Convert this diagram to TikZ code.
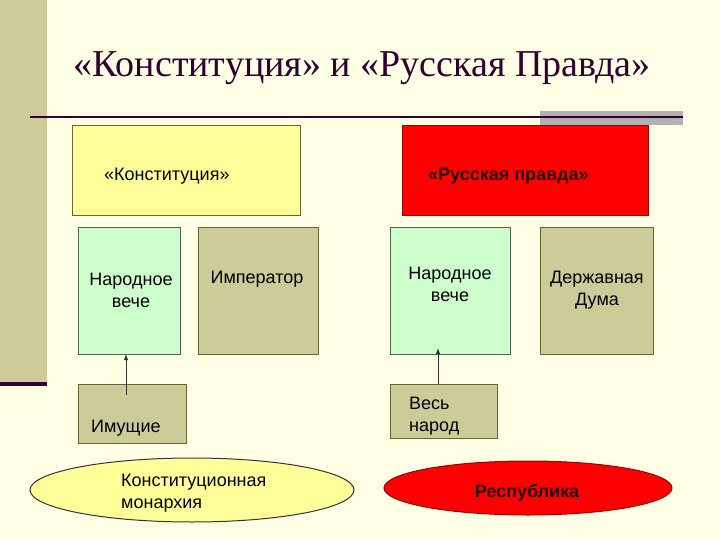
\documentclass[tikz,border=0pt]{standalone}
\usepackage{fontspec}
\setmainfont{Liberation Sans}
\newfontfamily\titlefont{Liberation Serif}
\usetikzlibrary{arrows.meta, calc, positioning, shapes.geometric}
\definecolor{slidebg}{HTML}{FFFFE5}
\definecolor{khaki}{HTML}{CCCC99}
\definecolor{khakiline}{HTML}{666633}
\definecolor{plum}{HTML}{330033}
\definecolor{lemon}{HTML}{FFFF99}
\definecolor{mint}{HTML}{CCFFCC}
\definecolor{mintline}{HTML}{4D664D}
\definecolor{darkred}{HTML}{990000}
\definecolor{redtext}{HTML}{220000}

\begin{document}
\begin{tikzpicture}[x=1pt, y=-1pt,% styles used in image code
         > = {Latex[length=6pt,width=4.5pt]},
box/.style = {draw, line width=1pt, inner sep=0pt, outer sep=0pt,
              node contents={}},
txt/.style = {inner sep=0pt, font=\fontsize{18}{22}\selectfont},
oval/.style = {ellipse, draw, line width=1pt, inner sep=0pt,
               node contents={}}
                        ]
	% slide background
	\fill[slidebg] (0,0) rectangle (720,540);
	\useasboundingbox (0,0) rectangle (720,540);
	\fill[khaki] (0,0) rectangle (47,382);
	\fill[plum] (0,382) rectangle (47,386);
	\fill[black!30] (540,111) rectangle (683,125);
	\draw[plum, line width=2pt] (30,117) -- (683,117);

	% title
	\node[plum, inner sep=0pt, font=\titlefont\fontsize{38}{44}\selectfont]
		(title) at (362,68) {«Конституция» и «Русская Правда»};

	% upper boxes
	\node (konst) at (186,171)
		[box, fill=lemon, draw=khakiline, minimum width=228, minimum height=90];
	\node (pravda) at (525,171)
		[box, fill=red, draw=darkred, minimum width=246, minimum height=90];
	\node[txt, anchor=west] (konsttxt) at (104,176) {«Конституция»};
	\node[txt, anchor=west, redtext, font=\fontsize{18}{22}\selectfont\bfseries]
		(pravdatxt) at (428,176) {«Русская правда»};

	% middle boxes
	\node (vecheL) at (129,291)
		[box, fill=mint, draw=mintline, minimum width=102, minimum height=126];
	\node (emperor) at (258,291)
		[box, fill=khaki, draw=khakiline, minimum width=120, minimum height=126];
	\node (vecheR) at (450,291)
		[box, fill=mint, draw=mintline, minimum width=120, minimum height=126];
	\node (duma) at (596.5,291)
		[box, fill=khaki, draw=khakiline, minimum width=113, minimum height=126];
	\node[txt, align=center] (vecheLtxt) at (131,290) {Народное\\вече};
	\node[txt] (emperortxt) at (257,279) {Император};
	\node[txt, align=center] (vecheRtxt) at (450,284) {Народное\\вече};
	\node[txt, align=center] (dumatxt) at (597,290) {Державная\\Дума};

	% lower boxes
	\node (rich) at (132,413.5)
		[box, fill=khaki, draw=khakiline, minimum width=108, minimum height=59];
	\node (people) at (443.5,411)
		[box, fill=khaki, draw=khakiline, minimum width=107, minimum height=54];
	\node[txt, anchor=west] (richtxt) at (91,428) {Имущие};
	\node[txt, anchor=west, align=left] (peopletxt) at (409,416) {Весь\\народ};

	% arrows
	\coordinate (richup) at (126,395);
	\coordinate (peopleup) at (438,384);
	\draw[->, black!80, line width=1pt] (richup) -- (richup |- vecheL.south);
	\draw[->, black!80, line width=1pt] (peopleup) -- ($(peopleup |- vecheR.south)+(0,-6)$);

	% results
	\node (monarchy) at (192,490)
		[oval, fill=lemon, draw=black!80, minimum width=324, minimum height=64];
	\node (republic) at (528,488)
		[oval, fill=red, draw=darkred, minimum width=288, minimum height=54];
	\node[txt, anchor=west, align=left] (monarchytxt) at (121,493)
		{Конституционная\\монархия};
	\node[txt, redtext, font=\fontsize{18}{22}\selectfont\bfseries]
		(republictxt) at (527,493) {Республика};
\end{tikzpicture}
\end{document}
